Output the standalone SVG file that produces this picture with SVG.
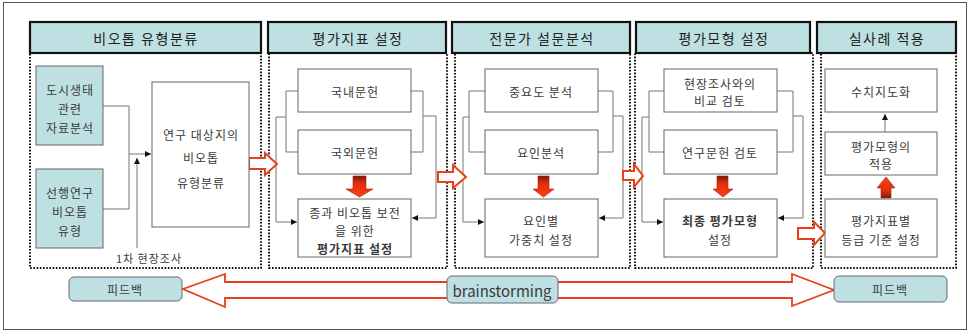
<svg xmlns="http://www.w3.org/2000/svg" width="971" height="335" viewBox="0 0 971 335">
<style>
.t{font-family:"Noto Sans CJK KR","Noto Sans",sans-serif;fill:#3a3a3a;text-anchor:middle;dominant-baseline:central}
.h{font-size:14px;fill:#222;letter-spacing:1.5px}
.b{font-size:12px;letter-spacing:1px}
.hdr{fill:#bfe0e3;stroke:#111;stroke-width:2.2}
.dot{fill:none;stroke:#111;stroke-width:2;stroke-dasharray:1.6 1.6}
.box{fill:#fff;stroke:#666;stroke-width:1}
.tb{fill:#bfe0e3;stroke:#666;stroke-width:1}
.c{fill:none;stroke:#777;stroke-width:1}
.blk{fill:#fff;stroke:#e8401c;stroke-width:2;stroke-linejoin:miter}
.rd{fill:url(#gd);stroke:#a02000;stroke-width:0.6}
.ru{fill:url(#gu);stroke:#a02000;stroke-width:0.6}
.rb{fill:#bfe0e3;stroke:#667;stroke-width:1}
</style>
<defs>
<marker id="ah" viewBox="0 0 6 6" refX="6" refY="3" markerWidth="6" markerHeight="6" orient="auto" markerUnits="userSpaceOnUse">
<path d="M0,0 L6,3 L0,6 z" fill="#111"/>
</marker>
<linearGradient id="gd" x1="0" y1="0" x2="0" y2="1">
<stop offset="0" stop-color="#7a1a08"/><stop offset="0.35" stop-color="#e03010"/><stop offset="1" stop-color="#ff3d10"/>
</linearGradient>
<linearGradient id="gu" x1="0" y1="1" x2="0" y2="0">
<stop offset="0" stop-color="#7a1a08"/><stop offset="0.35" stop-color="#e03010"/><stop offset="1" stop-color="#ff3d10"/>
</linearGradient>
</defs>
<rect x="3.5" y="2.5" width="963" height="327" fill="#fff" stroke="#555" stroke-width="1"/>

<g id="sec1">
<rect class="dot" x="30" y="53" width="231" height="215"/>
<rect class="hdr" x="30" y="22" width="231" height="31"/>
<text class="t h" x="146" y="38">비오톱 유형분류</text>
</g>
<g id="sec2">
<rect class="dot" x="269" y="53" width="178" height="215"/>
<rect class="hdr" x="268" y="22" width="178" height="31"/>
<text class="t h" x="358" y="38">평가지표 설정</text>
</g>
<g id="sec3">
<rect class="dot" x="455" y="53" width="175" height="215"/>
<rect class="hdr" x="452" y="22" width="178" height="31"/>
<text class="t h" x="542" y="38">전문가 설문분석</text>
</g>
<g id="sec4">
<rect class="dot" x="635" y="53" width="178" height="215"/>
<rect class="hdr" x="636" y="22" width="174" height="31"/>
<text class="t h" x="724" y="38">평가모형 설정</text>
</g>
<g id="sec5">
<rect class="dot" x="821" y="53" width="135" height="215"/>
<rect class="hdr" x="817" y="22" width="139" height="31"/>
<text class="t h" x="887" y="38">실사례 적용</text>
</g>

<g id="connectors">
<path class="c" d="M103,106 H129 V209 H103"/>
<path class="c" d="M129,154 H151" marker-end="url(#ah)"/>
<path class="c" d="M137,248 V158" marker-end="url(#ah)"/>

<path class="c" d="M298,91 H286 V152 H298"/>
<path class="c" d="M286,117 H276 V222 H297" marker-end="url(#ah)"/>
<path class="c" d="M411,91 H423 V152 H411"/>
<path class="c" d="M423,116 H436 V218 H412" marker-end="url(#ah)"/>

<path class="c" d="M485,91 H469 V152 H485"/>
<path class="c" d="M469,117 H463 V222 H484" marker-end="url(#ah)"/>
<path class="c" d="M598,91 H613 V152 H598"/>
<path class="c" d="M613,116 H623 V218 H599" marker-end="url(#ah)"/>

<path class="c" d="M664,91 H649 V152 H664"/>
<path class="c" d="M649,117 H642 V222 H663" marker-end="url(#ah)"/>
<path class="c" d="M777,91 H793 V152 H777"/>
<path class="c" d="M793,116 H803 V218 H778" marker-end="url(#ah)"/>

<path class="c" d="M885,132 V114" marker-end="url(#ah)"/>

<path class="blk" d="M249,158 H265 V153 L277,164 L265,175 V169 H249 Z"/>
<path class="blk" d="M438,172 H453 V165 L466,177 L453,188 V182 H438 Z"/>
<path class="blk" d="M623,171 H634 V164 L643,176 L634,187 V180 H623 Z"/>
<path class="blk" d="M798,228 H814 V222 L825,233 L814,245 V239 H798 Z"/>

<path class="rd" d="M353,176 H366 V189 H373 L359.5,197 L346,189 H353 Z"/>
<path class="rd" d="M538,176 H549 V189 H554 L543.5,197 L533,189 H538 Z"/>
<path class="rd" d="M717,176 H728 V189 H733 L723,197 L713,189 H717 Z"/>
<path class="ru" d="M881,198 H891 V188 H895 L886,177 L877,188 H881 Z"/>

<path d="M183,289 L225,274 V282 H792 V274 L834,290 L792,306 V298 H225 V307 Z" fill="#fff" stroke="#e8401c" stroke-width="1.8" stroke-linejoin="miter"/>
</g>

<g id="n_urban">
<rect class="tb" x="36" y="66" width="67" height="79"/>
<text class="t b" x="70" y="89" font-size="13">도시생태</text>
<text class="t b" x="70" y="108" font-size="13">관련</text>
<text class="t b" x="70" y="127" font-size="13">자료분석</text>
</g>
<g id="n_prev">
<rect class="tb" x="36" y="169" width="67" height="79"/>
<text class="t b" x="70" y="192" font-size="13">선행연구</text>
<text class="t b" x="70" y="211" font-size="13">비오톱</text>
<text class="t b" x="70" y="230" font-size="13">유형</text>
</g>
<g id="n_target">
<rect class="box" x="152" y="82" width="97" height="145"/>
<text class="t b" x="201" y="134">연구 대상지의</text>
<text class="t b" x="201" y="157">비오톱</text>
<text class="t b" x="201" y="182">유형분류</text>
</g>
<g id="n_survey1">
<text class="t" x="149" y="258" font-size="11" fill="#555" letter-spacing="1">1차 현장조사</text>
</g>

<g id="n_dom">
<rect class="box" x="298" y="69" width="113" height="43"/>
<text class="t b" x="355" y="91">국내문헌</text>
</g>
<g id="n_for">
<rect class="box" x="298" y="130" width="113" height="44"/>
<text class="t b" x="355" y="152">국외문헌</text>
</g>
<g id="n_index">
<rect class="box" x="298" y="199" width="113" height="58"/>
<text class="t b" x="355" y="212">종과 비오톱 보전</text>
<text class="t b" x="355" y="230">을 위한</text>
<text class="t b" x="355" y="248" font-weight="bold">평가지표 설정</text>
</g>

<g id="n_imp">
<rect class="box" x="485" y="69" width="113" height="43"/>
<text class="t b" x="541" y="91">중요도 분석</text>
</g>
<g id="n_factor">
<rect class="box" x="485" y="130" width="113" height="44"/>
<text class="t b" x="541" y="152">요인분석</text>
</g>
<g id="n_weight">
<rect class="box" x="485" y="199" width="113" height="58"/>
<text class="t b" x="541" y="220">요인별</text>
<text class="t b" x="541" y="239">가중치 설정</text>
</g>

<g id="n_field">
<rect class="box" x="664" y="69" width="113" height="43"/>
<text class="t b" x="720" y="83">현장조사와의</text>
<text class="t b" x="720" y="100">비교 검토</text>
</g>
<g id="n_lit">
<rect class="box" x="664" y="130" width="113" height="44"/>
<text class="t b" x="720" y="152">연구문헌 검토</text>
</g>
<g id="n_final">
<rect class="box" x="664" y="199" width="113" height="58"/>
<text class="t b" x="720" y="220" font-weight="bold">최종 평가모형</text>
<text class="t b" x="720" y="239">설정</text>
</g>

<g id="n_map">
<rect class="box" x="825" y="69" width="112" height="43"/>
<text class="t b" x="881" y="91">수치지도화</text>
</g>
<g id="n_apply">
<rect class="box" x="825" y="132" width="112" height="43"/>
<text class="t b" x="881" y="146">평가모형의</text>
<text class="t b" x="881" y="163">적용</text>
</g>
<g id="n_grade">
<rect class="box" x="825" y="199" width="112" height="58"/>
<text class="t b" x="881" y="220">평가지표별</text>
<text class="t b" x="881" y="239">등급 기준 설정</text>
</g>

<g id="n_fb1">
<rect class="rb" x="69" y="277" width="113" height="24" rx="5"/>
<text class="t b" x="125" y="289">피드백</text>
</g>
<g id="n_brain">
<rect class="rb" x="447" y="276" width="111" height="27" rx="5"/>
<text class="t" x="502" y="290" font-family="Liberation Sans,Arial,sans-serif" font-size="15">brainstorming</text>
</g>
<g id="n_fb2">
<rect class="rb" x="834" y="276" width="113" height="26" rx="5"/>
<text class="t b" x="890" y="289">피드백</text>
</g>
</svg>
